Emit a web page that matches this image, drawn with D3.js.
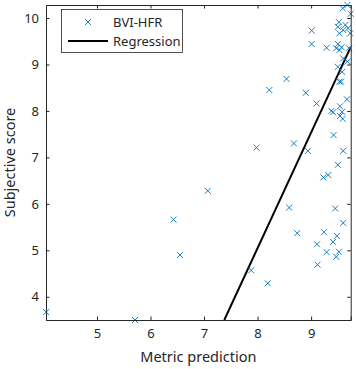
<!DOCTYPE html>
<html><head><meta charset="utf-8">
<script src="https://cdn.jsdelivr.net/npm/d3@7"></script>
<style>body{margin:0;background:#fff}svg{display:block}text{font-family:"Noto Sans",sans-serif;fill:#262626}</style>
</head><body><svg id="c" width="356" height="369"></svg>
<script>
const metricPred = [4.05,5.71,6.43,6.55,7.07,7.98,7.88,8.19,8.22,8.54,8.68,8.59,8.74,8.90,8.94,9.01,9.01,9.10,9.11,9.12,9.23,9.32,9.24,9.29,9.29,9.38,9.41,9.42,9.41,9.45,9.48,9.47,9.52,9.50,9.60,9.60,9.67,9.54,9.58,9.54,9.59,9.50,9.58,9.53,9.56,9.60,9.68,9.71,9.52,9.64,9.50,9.69,9.60,9.53,9.73,9.50,9.47,9.53,9.57,9.59,9.68,9.74];
const subjScore = [3.67,3.50,5.66,4.90,6.28,7.21,4.57,4.29,8.45,8.69,7.30,5.92,5.37,8.39,7.14,9.73,9.44,8.16,5.13,4.69,6.57,6.62,5.39,4.96,9.36,8.00,7.97,7.48,5.18,5.90,5.31,4.86,4.97,6.84,7.14,5.59,8.25,8.10,7.98,7.89,7.83,8.95,8.84,8.63,8.63,9.13,9.06,9.35,9.91,9.85,9.81,9.78,9.74,9.67,9.67,9.44,9.35,9.31,9.37,10.21,10.28,10.09];
const regression = [2.487, -14.85]; // slope, intercept
const xTicks = [5,6,7,8,9];
const yTicks = [4,5,6,7,8,9,10];
const xDomain = [4.047, 9.74];
const yDomain = [3.5, 10.28];
const legendLabels = ["BVI-HFR","Regression"];

const svg = d3.select("#c");
const L=46, R=350.7, T=5, B=320;
const x = d3.scaleLinear().domain(xDomain).range([L,R]);
const y = d3.scaleLinear().domain(yDomain).range([B,T]);
const axisCol = "#262626", blue = "#0072BD";

// regression line (clipped)
svg.append("clipPath").attr("id","clip").append("rect").attr("x",L).attr("y",T).attr("width",R-L).attr("height",B-T);
const [m,b] = regression;
const x0 = (yDomain[0]-b)/m, x1 = xDomain[1];
svg.append("line").attr("clip-path","url(#clip)")
  .attr("x1",x(x0)).attr("y1",y(m*x0+b)).attr("x2",x(x1)).attr("y2",y(m*x1+b))
  .attr("stroke","#000").attr("stroke-width",2);

// markers
const cross = "M-3,-3L3,3M-3,3L3,-3";
svg.append("g").selectAll("path").data(metricPred.map((v,i)=>[v,subjScore[i]])).join("path")
  .attr("d",cross).attr("transform",d=>`translate(${x(d[0])},${y(d[1])})`)
  .attr("stroke",blue).attr("stroke-width",0.9).attr("fill","none");

// axes
const fs = 13;
const gx = svg.append("g").attr("transform",`translate(0,${B})`)
  .call(d3.axisBottom(x).tickValues(xTicks).tickSize(-3.5).tickPadding(9).tickFormat(d3.format("d")));
const gxt = svg.append("g").attr("transform",`translate(0,${T})`)
  .call(d3.axisTop(x).tickValues(xTicks).tickSize(-3.5).tickFormat(""));
const gy = svg.append("g").attr("transform",`translate(${L},0)`)
  .call(d3.axisLeft(y).tickValues(yTicks).tickSize(-3.5).tickPadding(7).tickFormat(d3.format("d")));
const gyr = svg.append("g").attr("transform",`translate(${R},0)`)
  .call(d3.axisRight(y).tickValues(yTicks).tickSize(-3.5).tickFormat(""));
[gx,gxt,gy,gyr].forEach(g=>{
  g.selectAll(".domain").attr("stroke",axisCol).attr("stroke-width",1);
  g.selectAll(".tick line").attr("stroke",axisCol).attr("stroke-width",1);
  g.selectAll("text").attr("font-size",fs).attr("font-family","Noto Sans").attr("fill",axisCol);
});

// axis labels
svg.append("text").attr("x",(L+R)/2).attr("y",362).attr("text-anchor","middle").attr("font-size",14.5).text("Metric prediction");
svg.append("text").attr("transform",`translate(15,${(T+B)/2}) rotate(-90)`).attr("text-anchor","middle").attr("font-size",14.5).text("Subjective score");

// legend
const lg = svg.append("g");
lg.append("rect").attr("x",61.5).attr("y",9.5).attr("width",121).attr("height",43)
  .attr("fill","#fff").attr("stroke",axisCol).attr("stroke-width",0.8);
lg.append("path").attr("d",cross).attr("transform","translate(88,22)").attr("stroke",blue).attr("stroke-width",0.9).attr("fill","none");
lg.append("line").attr("x1",68).attr("x2",108).attr("y1",41).attr("y2",41).attr("stroke","#000").attr("stroke-width",2);
lg.append("text").attr("x",113).attr("y",22).attr("dy","0.35em").attr("font-size",13).text(legendLabels[0]);
lg.append("text").attr("x",113).attr("y",41).attr("dy","0.35em").attr("font-size",13).text(legendLabels[1]);
</script></body></html>
